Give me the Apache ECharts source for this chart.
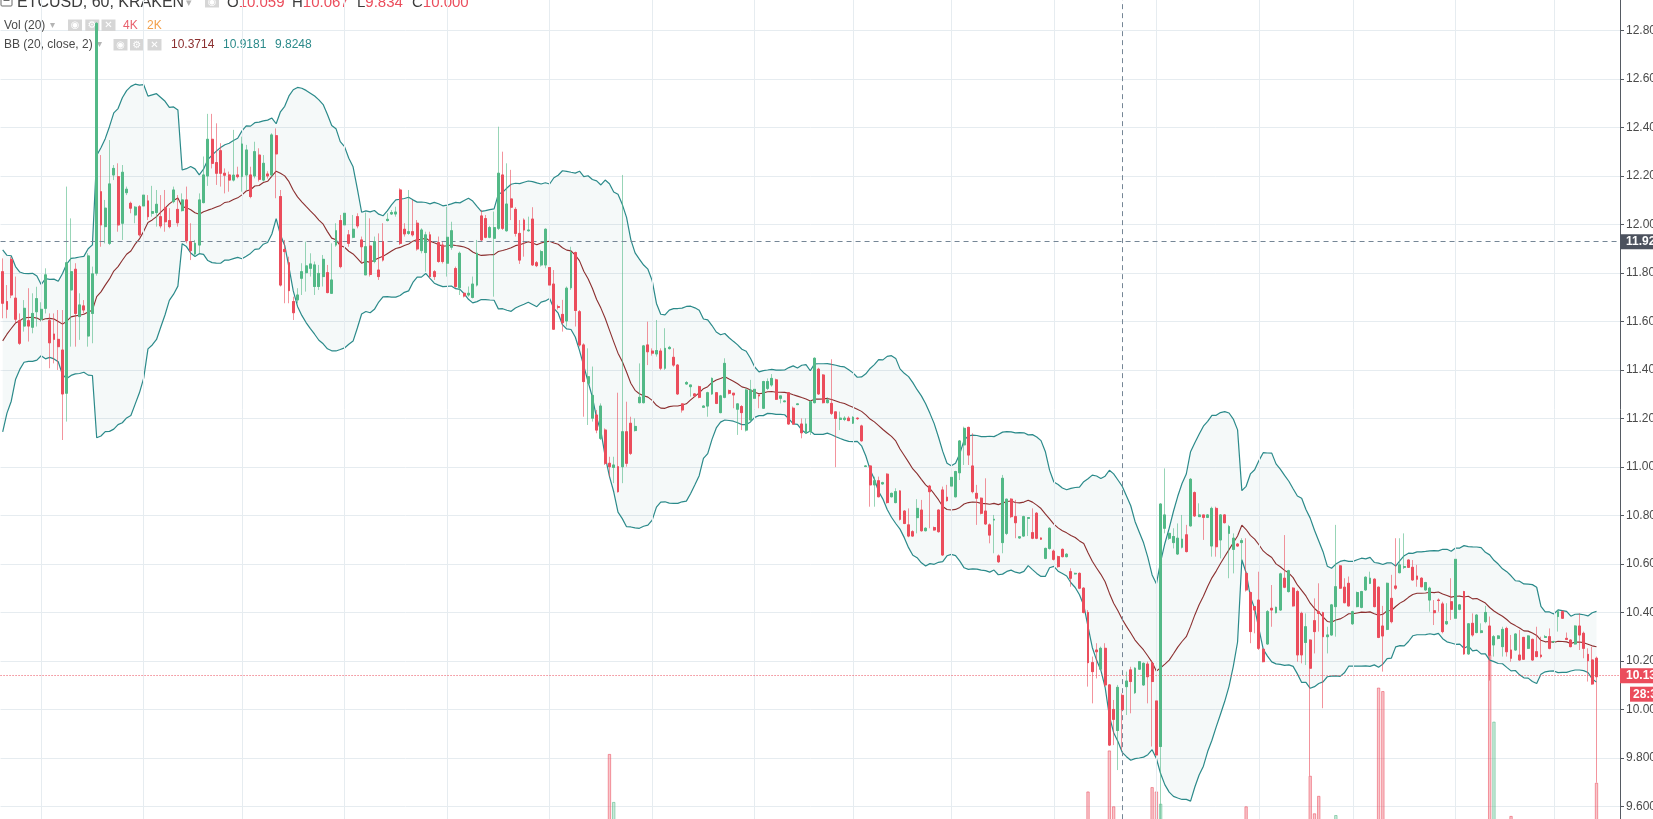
<!DOCTYPE html>
<html>
<head>
<meta charset="utf-8">
<title>ETCUSD, 60, KRAKEN</title>
<script src="https://cdn.jsdelivr.net/npm/echarts@6/dist/echarts.min.js"></script>
<style>
  html, body { margin: 0; padding: 0; background: #fff; }
  #chart { width: 1653px; height: 819px; }
</style>
</head>
<body>
<div id="chart"></div>
<script>
// ETCUSD 60 min candles (Kraken), one row = 10 hours
const opens = [
  11.806, 11.683, 11.857, 11.697, 11.604, 11.582, 11.604, 11.577, 11.641, 11.610,
  11.655, 11.604, 11.549, 11.527, 11.483, 11.305, 11.731, 11.816, 11.621, 11.665,
  11.541, 11.634, 11.800, 12.136, 11.992, 11.923, 12.205, 12.198, 12.006, 12.132,
  12.088, 12.040, 12.074, 12.077, 12.098, 12.047, 12.050, 12.033, 12.070, 12.017,
  12.095, 12.063, 12.058, 12.102, 11.930, 11.879, 11.916, 12.091, 12.201, 12.352,
  12.256, 12.305, 12.212, 12.205, 12.184, 12.205, 12.198, 12.205, 12.205, 12.201,
  12.287, 12.184, 12.209, 12.205, 12.367, 12.116, 11.898, 11.843, 11.683, 11.690,
  11.779, 11.802, 11.820, 11.745, 11.745, 11.786, 11.802, 11.717, 11.916, 12.017,
  11.999, 11.958, 11.948, 12.033, 11.937, 11.793, 11.912, 11.848, 11.813, 11.930,
  12.017, 12.044, 12.044, 12.143, 11.981, 11.964, 11.971, 12.006, 11.893, 11.885,
  11.958, 11.806, 11.926, 11.916, 11.841, 11.907, 11.819, 11.740, 11.717, 11.710,
  11.700, 11.751, 12.036, 12.025, 11.948, 11.944, 11.985, 12.205, 11.975, 12.106,
  12.063, 11.964, 12.019, 11.975, 12.023, 11.843, 11.834, 11.834, 11.823, 11.755,
  11.662, 11.630, 11.603, 11.740, 11.885, 11.641, 11.504, 11.346, 11.202, 11.215,
  11.119, 11.153, 11.016, 10.999, 11.002, 11.002, 11.146, 11.181, 11.151, 11.266,
  11.266, 11.504, 11.479, 11.467, 11.479, 11.408, 11.489, 11.453, 11.421, 11.261,
  11.343, 11.332, 11.302, 11.332, 11.247, 11.252, 11.302, 11.307, 11.225, 11.288,
  11.316, 11.305, 11.239, 11.250, 11.153, 11.195, 11.284, 11.298, 11.243, 11.325,
  11.339, 11.360, 11.284, 11.270, 11.307, 11.243, 11.258, 11.178, 11.142, 11.147,
  11.266, 11.404, 11.380, 11.266, 11.263, 11.228, 11.197, 11.197, 11.202, 11.181,
  11.202, 11.170, 11.003, 11.005, 10.927, 10.944, 10.931, 10.971, 10.878, 10.854,
  10.902, 10.819, 10.762, 10.734, 10.792, 10.823, 10.738, 10.922, 10.751, 10.823,
  10.906, 10.876, 10.922, 10.878, 10.977, 11.092, 11.164, 11.005, 10.892, 10.872,
  10.819, 10.762, 10.782, 10.634, 10.689, 10.727, 10.868, 10.796, 10.708, 10.716,
  10.789, 10.730, 10.810, 10.708, 10.624, 10.665, 10.654, 10.631, 10.661, 10.631,
  10.569, 10.560, 10.562, 10.501, 10.401, 10.194, 10.246, 10.167, 10.253, 10.102,
  10.001, 9.914, 10.059, 10.095, 10.164, 10.070, 10.167, 10.102, 10.188, 10.191,
  10.036, 9.848, 10.748, 10.707, 10.689, 10.642, 10.670, 10.721, 10.758, 10.895,
  10.796, 10.803, 10.793, 10.675, 10.830, 10.700, 10.803, 10.727, 10.661, 10.683,
  10.689, 10.562, 10.483, 10.425, 10.452, 10.249, 10.271, 10.418, 10.400, 10.411,
  10.542, 10.487, 10.501, 10.487, 10.397, 10.277, 10.287, 10.367, 10.404, 10.400,
  10.301, 10.308, 10.425, 10.593, 10.505, 10.521, 10.354, 10.425, 10.422, 10.494,
  10.521, 10.538, 10.505, 10.345, 10.331, 10.459, 10.510, 10.565, 10.587, 10.617,
  10.587, 10.551, 10.542, 10.494, 10.452, 10.408, 10.452, 10.436, 10.354, 10.445,
  10.377, 10.414, 10.487, 10.230, 10.356, 10.318, 10.318, 10.363, 10.345, 10.267,
  10.294, 10.260, 10.335, 10.246, 10.246, 10.225, 10.298, 10.253, 10.290, 10.239,
  10.225, 10.298, 10.301, 10.279, 10.384, 10.404, 10.294, 10.287, 10.271, 10.345,
  10.315, 10.228, 10.205, 10.212
]
const closes = [
  11.676, 11.651, 11.710, 11.610, 11.511, 11.655, 11.582, 11.634, 11.695, 11.651,
  11.793, 11.513, 11.527, 11.497, 11.302, 11.843, 11.806, 11.634, 11.669, 11.648,
  11.871, 11.797, 12.830, 11.999, 12.068, 12.168, 12.232, 11.999, 12.216, 12.146,
  12.068, 12.072, 11.958, 12.122, 12.033, 12.054, 12.084, 11.995, 12.012, 11.992,
  12.143, 12.008, 12.102, 11.934, 11.893, 11.923, 12.102, 12.205, 12.352, 12.253,
  12.212, 12.212, 12.204, 12.184, 12.204, 12.198, 12.333, 12.308, 12.116, 12.301,
  12.187, 12.253, 12.201, 12.370, 12.292, 11.751, 11.889, 11.728, 11.637, 11.710,
  11.806, 11.830, 11.838, 11.834, 11.799, 11.857, 11.720, 11.772, 11.975, 11.827,
  12.047, 11.923, 11.981, 11.995, 11.909, 11.909, 11.795, 11.930, 11.786, 11.854,
  12.022, 12.050, 12.052, 11.923, 11.962, 11.971, 11.958, 11.900, 11.978, 11.958,
  11.786, 11.786, 11.848, 11.848, 11.948, 11.975, 11.745, 11.882, 11.706, 11.717,
  11.755, 11.882, 11.937, 11.948, 11.988, 11.988, 12.212, 11.985, 12.085, 12.072,
  11.964, 11.854, 11.978, 11.978, 11.834, 11.831, 11.889, 11.981, 11.751, 11.569,
  11.659, 11.596, 11.738, 11.885, 11.646, 11.504, 11.353, 11.373, 11.296, 11.153,
  11.252, 11.016, 11.002, 11.009, 10.899, 11.146, 11.016, 11.057, 11.168, 11.288,
  11.500, 11.476, 11.470, 11.481, 11.408, 11.490, 11.494, 11.421, 11.302, 11.236,
  11.349, 11.339, 11.294, 11.288, 11.252, 11.307, 11.366, 11.263, 11.294, 11.428,
  11.305, 11.298, 11.261, 11.225, 11.318, 11.318, 11.321, 11.294, 11.353, 11.353,
  11.366, 11.280, 11.294, 11.273, 11.178, 11.178, 11.261, 11.142, 11.178, 11.270,
  11.449, 11.302, 11.266, 11.277, 11.222, 11.201, 11.202, 11.202, 11.192, 11.206,
  11.200, 11.109, 11.005, 10.927, 10.944, 10.878, 10.936, 10.854, 10.892, 10.899,
  10.785, 10.768, 10.716, 10.716, 10.830, 10.738, 10.748, 10.899, 10.741, 10.734,
  10.638, 10.862, 10.958, 10.982, 11.108, 11.160, 11.050, 10.899, 10.872, 10.810,
  10.766, 10.720, 10.785, 10.610, 10.954, 10.868, 10.796, 10.771, 10.713, 10.796,
  10.792, 10.707, 10.707, 10.703, 10.665, 10.748, 10.620, 10.590, 10.631, 10.641,
  10.542, 10.562, 10.501, 10.401, 10.194, 10.157, 10.239, 10.253, 10.102, 9.854,
  9.960, 10.092, 10.000, 10.118, 10.116, 10.171, 10.198, 10.191, 10.136, 10.116,
  9.813, 10.848, 10.803, 10.727, 10.714, 10.707, 10.703, 10.652, 10.950, 10.799,
  10.803, 10.793, 10.803, 10.830, 10.672, 10.803, 10.771, 10.755, 10.707, 10.675,
  10.697, 10.494, 10.322, 10.411, 10.253, 10.198, 10.404, 10.411, 10.422, 10.560,
  10.505, 10.573, 10.428, 10.226, 10.226, 10.342, 10.171, 10.322, 10.397, 10.301,
  10.308, 10.432, 10.507, 10.501, 10.441, 10.428, 10.404, 10.483, 10.487, 10.546,
  10.542, 10.425, 10.298, 10.304, 10.521, 10.363, 10.501, 10.597, 10.590, 10.587,
  10.535, 10.538, 10.507, 10.524, 10.501, 10.400, 10.450, 10.322, 10.363, 10.414,
  10.620, 10.432, 10.230, 10.354, 10.308, 10.390, 10.325, 10.401, 10.225, 10.301,
  10.304, 10.331, 10.239, 10.212, 10.312, 10.205, 10.208, 10.304, 10.205, 10.219,
  10.219, 10.301, 10.253, 10.281, 10.404, 10.377, 10.290, 10.260, 10.345, 10.308,
  10.253, 10.202, 10.106, 10.136
]
const lows = [
  11.614, 11.614, 11.697, 11.593, 11.504, 11.559, 11.518, 11.552, 11.580, 11.600,
  11.634, 11.408, 11.428, 11.401, 11.112, 11.188, 11.497, 11.497, 11.525, 11.634,
  11.497, 11.511, 11.790, 11.909, 11.923, 11.916, 12.184, 11.971, 11.937, 12.122,
  12.047, 12.006, 11.951, 12.054, 12.019, 12.033, 11.992, 11.985, 11.971, 11.985,
  12.088, 11.992, 12.054, 11.923, 11.854, 11.868, 11.882, 12.088, 12.160, 12.232,
  12.164, 12.157, 12.129, 12.136, 12.178, 12.191, 12.136, 12.143, 12.109, 12.191,
  12.178, 12.178, 12.190, 12.198, 12.109, 11.745, 11.676, 11.676, 11.607, 11.676,
  11.710, 11.724, 11.786, 11.710, 11.731, 11.745, 11.717, 11.714, 11.909, 11.820,
  11.992, 11.909, 11.944, 11.985, 11.841, 11.793, 11.786, 11.841, 11.772, 11.848,
  12.013, 12.040, 12.033, 11.916, 11.951, 11.958, 11.951, 11.893, 11.882, 11.806,
  11.779, 11.772, 11.843, 11.840, 11.786, 11.896, 11.738, 11.710, 11.700, 11.703,
  11.696, 11.745, 11.930, 11.944, 11.944, 11.703, 11.978, 11.978, 11.971, 12.019,
  11.951, 11.838, 11.868, 11.971, 11.830, 11.825, 11.827, 11.820, 11.745, 11.566,
  11.650, 11.559, 11.580, 11.731, 11.580, 11.497, 11.208, 11.174, 11.188, 11.140,
  11.112, 11.009, 10.961, 10.934, 10.895, 10.934, 11.002, 11.050, 11.147, 11.263,
  11.263, 11.421, 11.460, 11.456, 11.400, 11.401, 11.485, 11.414, 11.298, 11.225,
  11.340, 11.291, 11.290, 11.284, 11.245, 11.208, 11.298, 11.260, 11.222, 11.284,
  11.300, 11.243, 11.133, 11.153, 11.147, 11.188, 11.195, 11.243, 11.240, 11.318,
  11.332, 11.277, 11.263, 11.268, 11.175, 11.175, 11.256, 11.119, 11.140, 11.133,
  11.263, 11.298, 11.263, 11.263, 11.215, 11.000, 11.153, 11.190, 11.190, 11.178,
  11.195, 11.105, 11.000, 10.837, 10.837, 10.876, 10.928, 10.850, 10.875, 10.851,
  10.780, 10.765, 10.711, 10.713, 10.727, 10.734, 10.735, 10.748, 10.738, 10.730,
  10.634, 10.858, 10.920, 10.875, 10.947, 11.009, 11.009, 10.892, 10.762, 10.805,
  10.762, 10.686, 10.645, 10.605, 10.645, 10.720, 10.790, 10.707, 10.705, 10.713,
  10.716, 10.703, 10.703, 10.700, 10.620, 10.660, 10.615, 10.585, 10.628, 10.628,
  10.507, 10.557, 10.497, 10.397, 10.095, 10.026, 10.129, 10.164, 10.095, 9.850,
  9.854, 9.751, 9.834, 9.978, 9.985, 10.065, 10.164, 10.098, 10.026, 9.848,
  9.800, 9.500, 10.727, 10.700, 10.665, 10.638, 10.665, 10.648, 10.755, 10.795,
  10.796, 10.700, 10.790, 10.631, 10.631, 10.624, 10.768, 10.542, 10.562, 10.672,
  10.610, 10.487, 10.274, 10.315, 10.246, 10.195, 10.267, 10.342, 10.397, 10.408,
  10.501, 10.483, 10.425, 10.198, 10.191, 10.184, 9.727, 10.232, 10.322, 10.006,
  10.232, 10.305, 10.301, 10.498, 10.439, 10.425, 10.350, 10.422, 10.418, 10.490,
  10.518, 10.422, 10.295, 10.157, 10.328, 10.356, 10.494, 10.562, 10.580, 10.585,
  10.532, 10.507, 10.505, 10.490, 10.404, 10.349, 10.404, 10.315, 10.349, 10.370,
  10.374, 10.410, 10.226, 10.226, 10.301, 10.315, 10.315, 10.356, 10.120, 10.219,
  10.290, 10.219, 10.219, 10.198, 10.243, 10.202, 10.205, 10.250, 10.202, 10.216,
  10.212, 10.298, 10.249, 10.277, 10.322, 10.374, 10.287, 10.257, 10.268, 10.246,
  10.212, 10.116, 10.102, 9.699
]
const highs = [
  11.861, 11.751, 11.868, 11.786, 11.634, 11.689, 11.738, 11.717, 11.744, 11.680,
  11.820, 11.634, 11.634, 11.648, 11.648, 12.157, 12.026, 11.841, 11.717, 11.689,
  11.882, 11.827, 12.835, 12.287, 12.102, 12.349, 12.246, 12.253, 12.246, 12.157,
  12.095, 12.077, 12.081, 12.184, 12.122, 12.160, 12.143, 12.122, 12.143, 12.068,
  12.157, 12.122, 12.129, 12.157, 12.006, 11.937, 12.129, 12.281, 12.457, 12.457,
  12.418, 12.336, 12.232, 12.219, 12.391, 12.239, 12.363, 12.329, 12.239, 12.342,
  12.315, 12.287, 12.220, 12.377, 12.397, 12.143, 11.937, 11.868, 11.703, 11.738,
  11.841, 11.930, 11.882, 11.848, 11.834, 11.875, 11.834, 11.923, 12.006, 12.040,
  12.061, 11.978, 12.040, 12.047, 11.951, 12.050, 12.026, 11.951, 11.964, 12.006,
  12.047, 12.060, 12.074, 12.150, 12.006, 12.143, 12.102, 12.019, 11.985, 11.971,
  11.971, 11.813, 11.951, 11.930, 12.074, 12.012, 11.827, 11.889, 11.720, 11.745,
  11.786, 11.937, 12.061, 12.040, 11.995, 12.054, 12.404, 12.301, 12.253, 12.226,
  12.072, 12.019, 12.026, 12.033, 12.072, 11.850, 11.896, 11.985, 11.827, 11.813,
  11.670, 11.690, 11.745, 11.909, 11.889, 11.648, 11.511, 11.490, 11.415, 11.236,
  11.263, 11.160, 11.043, 11.043, 11.307, 12.205, 11.270, 11.208, 11.201, 11.428,
  11.504, 11.600, 11.490, 11.607, 11.490, 11.573, 11.500, 11.490, 11.425, 11.263,
  11.355, 11.339, 11.305, 11.336, 11.255, 11.311, 11.370, 11.310, 11.298, 11.449,
  11.320, 11.305, 11.263, 11.256, 11.325, 11.360, 11.362, 11.298, 11.356, 11.366,
  11.384, 11.365, 11.294, 11.275, 11.310, 11.250, 11.263, 11.201, 11.201, 11.277,
  11.453, 11.410, 11.384, 11.288, 11.445, 11.229, 11.229, 11.210, 11.210, 11.210,
  11.205, 11.175, 11.008, 11.009, 10.961, 10.961, 10.940, 10.975, 10.895, 10.913,
  10.905, 10.823, 10.830, 10.740, 10.868, 10.865, 10.752, 10.927, 10.755, 10.826,
  10.920, 10.927, 10.968, 10.985, 11.112, 11.167, 11.167, 11.140, 10.927, 10.875,
  10.954, 10.768, 10.803, 10.640, 10.968, 10.870, 10.872, 10.865, 10.715, 10.800,
  10.792, 10.830, 10.815, 10.710, 10.668, 10.752, 10.660, 10.635, 10.665, 10.645,
  10.583, 10.565, 10.566, 10.505, 10.411, 10.219, 10.274, 10.260, 10.274, 10.105,
  10.040, 10.102, 10.067, 10.157, 10.177, 10.175, 10.200, 10.195, 10.198, 10.205,
  10.164, 10.851, 10.995, 10.730, 10.748, 10.768, 10.803, 10.762, 10.955, 10.900,
  10.851, 10.803, 10.806, 10.837, 10.837, 10.806, 10.806, 10.762, 10.727, 10.687,
  10.707, 10.707, 10.487, 10.425, 10.569, 10.253, 10.411, 10.514, 10.425, 10.565,
  10.720, 10.577, 10.505, 10.494, 10.404, 10.397, 10.290, 10.459, 10.521, 10.404,
  10.342, 10.436, 10.762, 10.597, 10.542, 10.549, 10.408, 10.487, 10.490, 10.550,
  10.569, 10.542, 10.508, 10.428, 10.524, 10.556, 10.707, 10.707, 10.727, 10.620,
  10.617, 10.597, 10.546, 10.527, 10.507, 10.452, 10.459, 10.445, 10.439, 10.542,
  10.625, 10.436, 10.490, 10.357, 10.397, 10.394, 10.356, 10.428, 10.384, 10.308,
  10.307, 10.342, 10.342, 10.308, 10.315, 10.329, 10.300, 10.307, 10.293, 10.342,
  10.301, 10.308, 10.335, 10.284, 10.411, 10.410, 10.318, 10.290, 10.348, 10.397,
  10.322, 10.253, 10.260, 10.219
]
// closes of the 19 hours before the first visible candle (only feed the BB window)
const priorCloses = [
  11.10, 11.24, 11.16, 11.32, 11.42, 11.55, 11.62, 11.76, 11.82, 11.68,
  11.48, 11.58, 11.70, 11.52, 11.60, 11.45, 11.55, 11.62, 11.57
]
// volume (thousands) of the bars that reach into the picture
const volIndex = [142, 143, 254, 259, 260, 262, 269, 270, 271, 291, 306, 307, 308, 312, 322, 323, 348, 349, 353, 373]
const volK = [11.6, 6.1, 7.3, 12.0, 5.6, 4.0, 7.8, 7.3, 5.9, 5.6, 9.1, 4.8, 6.8, 4.6, 19.2, 18.8, 23.0, 15.3, 4.5, 8.3]
// candles where a new day starts (vertical grid)
const dayLines = [9, 33, 56, 80, 104, 128, 152, 176, 199, 222, 246, 270, 294, 316, 340, 363]
const crossIndex = 262
const crossPrice = 11.929
const lastPrice = 10.136

const UP = '#53b987'
const DOWN = '#eb4d5c'
const BB_LINE = '#2b8a8a'
const BB_MID = '#8b2f2f'
const GRID = '#e6ecf0'
const FONT = '"Liberation Sans", Arial, sans-serif'
const rightPad = 5 // empty hours right of the last candle

// Bollinger Bands (20, close, 2)
const allCloses = priorCloses.concat(closes)
const bbMid = []
const bbUp = []
const bbLow = []
for (let i = 0; i < closes.length; i++) {
  const win = allCloses.slice(i, i + 20)
  const mean = win.reduce((a, b) => a + b, 0) / 20
  const sd = Math.sqrt(win.reduce((a, b) => a + (b - mean) * (b - mean), 0) / 20)
  bbMid.push(mean)
  bbUp.push(mean + 2 * sd)
  bbLow.push(mean - 2 * sd)
}
const bbWidth = bbUp.map((u, i) => u - bbLow[i])

const cats = []
for (let i = 0; i < closes.length + rightPad; i++) cats.push('h' + i)

const candleData = opens.map((o, i) => [o, closes[i], lows[i], highs[i]])
const bodyData = opens.map((o, i) => [o, closes[i], Math.min(o, closes[i]), Math.max(o, closes[i])])

const volData = cats.map(() => null)
volIndex.forEach((idx, k) => {
  const up = closes[idx] >= opens[idx]
  volData[idx] = {
    value: volK[k],
    itemStyle: {
      color: up ? 'rgba(83,185,135,0.3)' : 'rgba(235,77,92,0.32)',
      borderColor: up ? 'rgba(83,185,135,0.55)' : 'rgba(235,77,92,0.55)'
    }
  }
})

const chart = echarts.init(document.getElementById('chart'))

chart.setOption({
  animation: false,
  backgroundColor: '#ffffff',
  grid: { left: 0.56, right: 33, top: -17.83, bottom: -36.17, outerBoundsMode: 'none', containLabel: false },
  xAxis: {
    type: 'category',
    data: cats,
    boundaryGap: true,
    axisLine: { show: false },
    axisTick: { show: false },
    axisLabel: { show: false },
    splitLine: { show: false }
  },
  yAxis: [{
    type: 'value',
    position: 'right',
    min: 9.4,
    max: 13.0,
    interval: 0.2,
    scale: true,
    axisLine: { show: true, lineStyle: { color: '#555a62', width: 1 } },
    axisTick: { show: true, length: 4, lineStyle: { color: '#555a62' } },
    axisLabel: {
      color: '#4a4a4a',
      fontSize: 12,
      fontFamily: FONT,
      margin: 6,
      formatter: v => (v < 10 ? v.toFixed(3) : v.toFixed(2))
    },
    splitLine: { show: true, lineStyle: { color: GRID, width: 1 } }
  }, {
    type: 'value',
    min: 0,
    max: 100,
    show: false,
    splitLine: { show: false }
  }],
  series: [{
    name: 'bbBase',
    type: 'line',
    data: bbLow,
    stack: 'bb',
    symbol: 'none',
    silent: true,
    z: 1,
    lineStyle: { opacity: 0 },
    markLine: {
      silent: true,
      symbol: ['none', 'none'],
      animation: false,
      label: { show: false },
      lineStyle: { color: GRID, width: 1, type: 'solid' },
      data: dayLines.map(i => ({ xAxis: i }))
    }
  }, {
    name: 'bbFill',
    type: 'line',
    data: bbWidth,
    stack: 'bb',
    symbol: 'none',
    silent: true,
    z: 1,
    lineStyle: { opacity: 0 },
    areaStyle: { color: 'rgba(38,138,138,0.065)' }
  }, {
    name: 'volume',
    type: 'bar',
    yAxisIndex: 1,
    data: volData,
    barWidth: 3.4,
    silent: true,
    z: 2,
    itemStyle: { borderWidth: 1 }
  }, {
    name: 'bbUpper',
    type: 'line',
    data: bbUp,
    symbol: 'none',
    silent: true,
    z: 3,
    lineStyle: { color: BB_LINE, width: 1.2 }
  }, {
    name: 'bbLower',
    type: 'line',
    data: bbLow,
    symbol: 'none',
    silent: true,
    z: 3,
    lineStyle: { color: BB_LINE, width: 1.2 }
  }, {
    name: 'bbBasis',
    type: 'line',
    data: bbMid,
    symbol: 'none',
    silent: true,
    z: 3,
    lineStyle: { color: BB_MID, width: 1.1 }
  }, {
    name: 'wicks',
    type: 'candlestick',
    data: candleData,
    barWidth: 2.4,
    silent: true,
    z: 4,
    itemStyle: {
      color: 'transparent',
      color0: 'transparent',
      borderColor: 'rgba(83,185,135,0.6)',
      borderColor0: 'rgba(235,77,92,0.6)',
      borderWidth: 1
    }
  }, {
    name: 'bodies',
    type: 'candlestick',
    data: bodyData,
    barWidth: 2.4,
    silent: true,
    z: 5,
    itemStyle: {
      color: UP,
      color0: DOWN,
      borderColor: UP,
      borderColor0: DOWN,
      borderWidth: 1
    },
    markLine: {
      silent: true,
      symbol: ['none', 'none'],
      animation: false,
      data: [{
        xAxis: crossIndex,
        lineStyle: { color: '#758696', width: 1, type: [5, 4] },
        label: { show: false }
      }, {
        yAxis: crossPrice,
        lineStyle: { color: '#758696', width: 1, type: [5, 4] },
        label: {
          show: true, position: 'end', distance: 0,
          formatter: crossPrice.toFixed(3),
          backgroundColor: '#4c525e', color: '#ffffff',
          fontSize: 12, fontWeight: 'bold', fontFamily: FONT,
          padding: [2, 6, 1, 6]
        }
      }, {
        yAxis: lastPrice,
        lineStyle: { color: DOWN, width: 1, type: [1, 2] },
        label: {
          show: true, position: 'end', distance: 0,
          formatter: lastPrice.toFixed(3),
          backgroundColor: DOWN, color: '#ffffff',
          fontSize: 12, fontWeight: 'bold', fontFamily: FONT,
          padding: [2, 6, 1, 6]
        }
      }]
    }
  }]
})

// legend block (top left) and the bar countdown under the last price
const priceY = chart.convertToPixel({ yAxisIndex: 0 }, lastPrice)

function iconBox(id, x, y, glyph) {
  return {
    type: 'group', id: id, x: x, y: y,
    children: [
      { type: 'rect', shape: { x: 0, y: 0, width: 14, height: 11.5 }, style: { fill: '#d6d6d6' } },
      { type: 'text', x: 7, y: 6, style: { text: glyph, fill: '#ffffff', fontSize: 10, fontFamily: '"DejaVu Sans", sans-serif', align: 'center', verticalAlign: 'middle' } }
    ]
  }
}
function label(id, x, y, text, color, size) {
  return {
    type: 'text', id: id, x: x, y: y,
    style: { text: text, fill: color, fontSize: size, fontFamily: FONT, verticalAlign: 'middle' }
  }
}
function pair(id, x, key, val) {
  return {
    type: 'text', id: id, x: x, y: 3,
    style: {
      text: '{k|' + key + '}{v|' + val + '}',
      fontSize: 15, fontFamily: FONT, verticalAlign: 'middle',
      rich: { k: { fill: '#3c3c3c', fontSize: 15, fontFamily: FONT }, v: { fill: DOWN, fontSize: 15, fontFamily: FONT } }
    }
  }
}

chart.setOption({
  graphic: [
    { type: 'rect', id: 'collapse', x: 1, y: -5, shape: { x: 0, y: 0, width: 11, height: 11, r: 1 }, style: { fill: 'none', stroke: '#6a6a6a', lineWidth: 1 } },
    { type: 'line', id: 'collapseBar', shape: { x1: 3.5, y1: 0.5, x2: 9.5, y2: 0.5 }, style: { stroke: '#6a6a6a', lineWidth: 1 } },
    label('title', 17, 3, 'ETCUSD, 60, KRAKEN', '#3c3c3c', 16),
    label('titleDrop', 186, 3, '▾', '#b4b4b4', 11),
    iconBox('titleEye', 205, -4, '◉'),
    pair('o', 227, 'O', '10.059'),
    pair('h', 292, 'H', '10.067'),
    pair('l', 357, 'L', '9.834'),
    pair('c', 412, 'C', '10.000'),
    label('vol', 4, 25.5, 'Vol (20)', '#4a4a4a', 12),
    label('volDrop', 50, 25.5, '▾', '#b4b4b4', 10),
    iconBox('volEye', 68, 19.5, '◉'),
    iconBox('volGear', 85.3, 19.5, '⚙'),
    iconBox('volClose', 101.5, 19.5, '✕'),
    label('volVal', 123, 25.5, '4K', '#e8606d', 12),
    label('volMa', 147, 25.5, '2K', '#f2a04a', 12),
    label('bb', 4, 44.7, 'BB (20, close, 2)', '#4a4a4a', 12),
    label('bbDrop', 97, 44.7, '▾', '#b4b4b4', 10),
    iconBox('bbEye', 113.5, 39, '◉'),
    iconBox('bbGear', 130, 39, '⚙'),
    iconBox('bbClose', 147.5, 39, '✕'),
    label('bbMidVal', 171, 44.7, '10.3714', BB_MID, 12),
    label('bbUpVal', 223, 44.7, '10.9181', BB_LINE, 12),
    label('bbLowVal', 275, 44.7, '9.8248', BB_LINE, 12),
    {
      type: 'group', id: 'countdown', x: 1630, y: priceY + 10,
      children: [
        { type: 'rect', shape: { x: 0, y: 0, width: 30, height: 15 }, style: { fill: DOWN } },
        { type: 'text', x: 3, y: 7.5, style: { text: '28:37', fill: '#ffffff', fontSize: 12, fontWeight: 'bold', fontFamily: FONT, verticalAlign: 'middle' } }
      ]
    }
  ]
})
</script>
</body>
</html>
